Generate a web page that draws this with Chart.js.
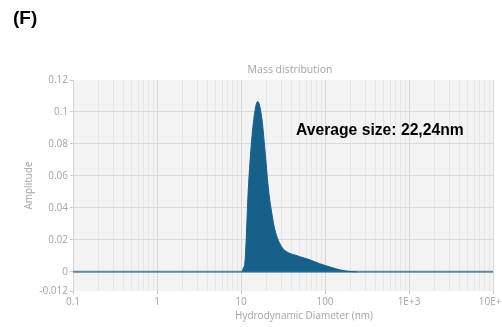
<!DOCTYPE html>
<html>
<head>
<meta charset="utf-8">
<script src="https://cdn.jsdelivr.net/npm/chart.js@4"></script>
<style>
  html, body { margin: 0; padding: 0; background: #fff; overflow: hidden; }
  #wrap { position: relative; width: 502px; height: 327px; overflow: hidden; }
  canvas { display: block; }
</style>
</head>
<body>
<div id="wrap"><canvas id="c" width="540" height="327"></canvas></div>
<script>
// Hydrodynamic diameter (nm) and mass-weighted amplitude of the distribution
const sizeNm = [10.3, 10.6, 11.2, 12.2, 13.4, 14.7, 15.8, 17.6, 19.3, 21.1, 23.2, 25.4, 30.5, 36.6, 44, 50, 66, 87, 115, 151, 198, 240];
const amplitude = [0, 0.002, 0.0075, 0.051, 0.0825, 0.101, 0.1065, 0.097, 0.076, 0.053, 0.037, 0.026, 0.0156, 0.012, 0.0105, 0.0095, 0.0075, 0.005, 0.003, 0.0012, 0.0002, 0];

// Baseline drawn across the whole measured range
const baselineX = [0.1, 10000];
const baselineY = [0, 0];

// Axis ticks
const yTicks = [-0.012, 0, 0.02, 0.04, 0.06, 0.08, 0.1, 0.12];
const xMajorTicks = [0.1, 1, 10, 100, 1000, 10000];
const xMajorLabels = ['0.1', '1', '10', '100', '1E+3', '10E+3'];

const panelLabel = '(F)';
const chartTitle = 'Mass distribution';
const xTitle = 'Hydrodynamic Diameter (nm)';
const yTitle = 'Amplitude';
const note = 'Average size: 22,24nm';

const greyText = '#a3a3a3';
const fillBlue = '#166089';

// every log tick: 1..9 x 10^n between 0.1 and 10000
const xAllTicks = [];
for (let e = -1; e < 4; e++) {
  for (let m = 1; m < 10; m++) xAllTicks.push(+(m * Math.pow(10, e)).toPrecision(3));
}
xAllTicks.push(10000);
const isMajor = v => xMajorTicks.some(t => Math.abs(t - v) / t < 1e-6);

const peakData = sizeNm.map((x, i) => ({ x, y: amplitude[i] }));
const baseData = baselineX.map((x, i) => ({ x, y: baselineY[i] }));

const decorations = {
  id: 'decorations',
  beforeDraw(chart) {
    const { ctx, chartArea: a } = chart;
    ctx.save();
    ctx.fillStyle = '#f3f3f3';
    ctx.fillRect(a.left, a.top, a.right - a.left, a.bottom - a.top);
    ctx.restore();
  },
  afterDraw(chart) {
    const { ctx } = chart;
    ctx.save();
    ctx.textBaseline = 'middle';
    ctx.fillStyle = '#000';
    ctx.font = 'bold 19px "Liberation Sans", Arial, sans-serif';
    ctx.textAlign = 'left';
    ctx.fillText(panelLabel, 13, 19);

    ctx.font = 'bold 15.7px "Liberation Sans", Arial, sans-serif';
    ctx.fillText(note, 296, 131);

    ctx.fillStyle = greyText;
    ctx.font = '10.5px "Open Sans", sans-serif';
    ctx.textAlign = 'center';
    ctx.fillText(chartTitle, 290, 70);
    ctx.font = '10px "Open Sans", sans-serif';
    ctx.fillText(xTitle, 304, 316);
    ctx.restore();
  }
};

new Chart(document.getElementById('c'), {
  type: 'line',
  data: {
    datasets: [
      {
        data: baseData,
        borderColor: '#5d8aa1',
        borderWidth: 2,
        pointRadius: 0,
        fill: false,
        order: 2
      },
      {
        data: peakData,
        borderColor: fillBlue,
        backgroundColor: fillBlue,
        borderWidth: 1,
        pointRadius: 0,
        fill: 'origin',
        cubicInterpolationMode: 'monotone',
        order: 1
      }
    ]
  },
  options: {
    responsive: false,
    animation: false,
    layout: { padding: { left: 23, right: 47, top: 80, bottom: 0 } },
    plugins: { legend: { display: false }, tooltip: { enabled: false }, title: { display: false } },
    scales: {
      x: {
        type: 'logarithmic',
        min: 0.1,
        max: 10000,
        afterBuildTicks: s => { s.ticks = xAllTicks.map(v => ({ value: v, major: isMajor(v) })); },
        afterFit: s => { s.height = 36; },
        ticks: {
          autoSkip: false,
          maxRotation: 0,
          color: greyText,
          font: { family: '"Open Sans", sans-serif', size: 10 },
          padding: 2,
          callback: (v) => {
            const i = xMajorTicks.findIndex(t => Math.abs(t - v) / t < 1e-6);
            return i >= 0 ? xMajorLabels[i] : '';
          }
        },
        grid: {
          color: c => (c.tick && c.tick.major) ? '#d6d6d6' : '#e6e6e6',
          lineWidth: 1,
          drawTicks: true,
          tickLength: 3,
          tickColor: c => (c.tick && c.tick.major) ? '#c8c8c8' : 'rgba(0,0,0,0)'
        },
        border: { display: false }
      },
      y: {
        min: -0.012,
        max: 0.12,
        afterBuildTicks: s => { s.ticks = yTicks.map(v => ({ value: v })); },
        afterFit: s => { s.width = 50; },
        title: {
          display: true,
          text: yTitle,
          color: greyText,
          font: { family: '"Open Sans", sans-serif', size: 10 },
          padding: { top: 0, bottom: 4 }
        },
        ticks: {
          color: greyText,
          font: { family: '"Open Sans", sans-serif', size: 10 },
          padding: 2,
          callback: v => String(+v.toFixed(3))
        },
        grid: {
          color: c => (c.tick && (c.tick.value === -0.012 || c.tick.value === 0.12)) ? 'rgba(0,0,0,0)' : '#d9d9d9',
          drawTicks: true,
          tickLength: 3,
          tickColor: '#c8c8c8'
        },
        border: { display: false }
      }
    }
  },
  plugins: [decorations]
});
</script>
</body>
</html>
